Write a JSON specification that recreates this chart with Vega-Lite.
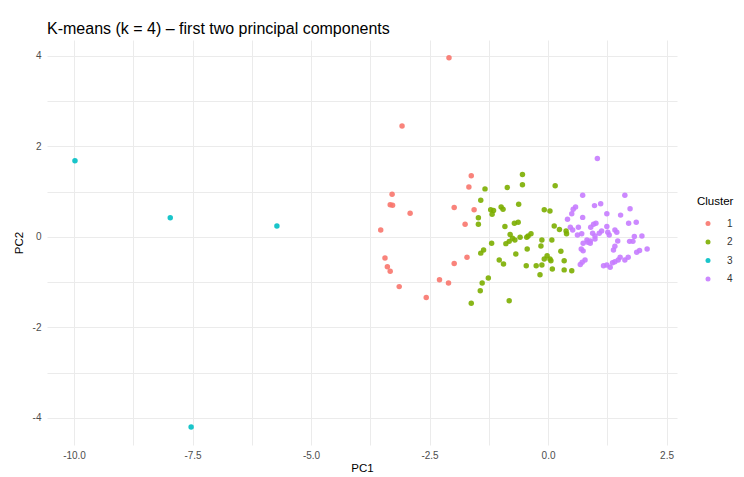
{
  "$schema": "https://vega.github.io/schema/vega-lite/v6.json",
  "autosize": "none",
  "width": 630,
  "height": 405,
  "padding": {"left": 47, "top": 40, "right": 67, "bottom": 32},
  "background": "white",
  "title": {
    "text": "K-means (k = 4) \u2013 first two principal components",
    "anchor": "start",
    "font": "Liberation Sans",
    "fontSize": 16,
    "fontWeight": "normal",
    "color": "#000000",
    "baseline": "alphabetic",
    "offset": 8,
    "dy": 18,
    "frame": "group"
  },
  "config": {
    "view": {"stroke": null},
    "font": "Liberation Sans"
  },
  "data": {
    "values": [
      {"PC1": -2.09, "PC2": 3.96, "Cluster": "1"},
      {"PC1": -3.08, "PC2": 2.45, "Cluster": "1"},
      {"PC1": -1.62, "PC2": 1.35, "Cluster": "1"},
      {"PC1": -1.67, "PC2": 1.10, "Cluster": "1"},
      {"PC1": -3.29, "PC2": 0.94, "Cluster": "1"},
      {"PC1": -3.33, "PC2": 0.71, "Cluster": "1"},
      {"PC1": -3.28, "PC2": 0.70, "Cluster": "1"},
      {"PC1": -2.91, "PC2": 0.52, "Cluster": "1"},
      {"PC1": -1.98, "PC2": 0.65, "Cluster": "1"},
      {"PC1": -1.56, "PC2": 0.60, "Cluster": "1"},
      {"PC1": -3.53, "PC2": 0.15, "Cluster": "1"},
      {"PC1": -1.75, "PC2": 0.28, "Cluster": "1"},
      {"PC1": -3.44, "PC2": -0.47, "Cluster": "1"},
      {"PC1": -3.39, "PC2": -0.66, "Cluster": "1"},
      {"PC1": -3.33, "PC2": -0.76, "Cluster": "1"},
      {"PC1": -1.71, "PC2": -0.45, "Cluster": "1"},
      {"PC1": -1.98, "PC2": -0.59, "Cluster": "1"},
      {"PC1": -2.29, "PC2": -0.95, "Cluster": "1"},
      {"PC1": -2.10, "PC2": -1.02, "Cluster": "1"},
      {"PC1": -3.14, "PC2": -1.10, "Cluster": "1"},
      {"PC1": -2.57, "PC2": -1.34, "Cluster": "1"},
      {"PC1": -1.33, "PC2": 1.06, "Cluster": "2"},
      {"PC1": -0.86, "PC2": 1.09, "Cluster": "2"},
      {"PC1": -0.54, "PC2": 1.38, "Cluster": "2"},
      {"PC1": -0.54, "PC2": 1.15, "Cluster": "2"},
      {"PC1": 0.15, "PC2": 1.13, "Cluster": "2"},
      {"PC1": -1.42, "PC2": 0.81, "Cluster": "2"},
      {"PC1": -1.21, "PC2": 0.60, "Cluster": "2"},
      {"PC1": -1.15, "PC2": 0.58, "Cluster": "2"},
      {"PC1": -1.18, "PC2": 0.50, "Cluster": "2"},
      {"PC1": -0.99, "PC2": 0.66, "Cluster": "2"},
      {"PC1": -0.95, "PC2": 0.61, "Cluster": "2"},
      {"PC1": -0.62, "PC2": 0.72, "Cluster": "2"},
      {"PC1": -1.47, "PC2": 0.42, "Cluster": "2"},
      {"PC1": -1.47, "PC2": 0.28, "Cluster": "2"},
      {"PC1": -0.91, "PC2": 0.23, "Cluster": "2"},
      {"PC1": -0.71, "PC2": 0.30, "Cluster": "2"},
      {"PC1": -0.63, "PC2": 0.32, "Cluster": "2"},
      {"PC1": -0.08, "PC2": 0.60, "Cluster": "2"},
      {"PC1": 0.04, "PC2": 0.57, "Cluster": "2"},
      {"PC1": 0.13, "PC2": 0.24, "Cluster": "2"},
      {"PC1": 0.24, "PC2": 0.16, "Cluster": "2"},
      {"PC1": 0.38, "PC2": 0.13, "Cluster": "2"},
      {"PC1": 0.39, "PC2": 0.07, "Cluster": "2"},
      {"PC1": -0.80, "PC2": 0.05, "Cluster": "2"},
      {"PC1": -0.75, "PC2": -0.03, "Cluster": "2"},
      {"PC1": -0.82, "PC2": -0.10, "Cluster": "2"},
      {"PC1": -0.70, "PC2": -0.07, "Cluster": "2"},
      {"PC1": -0.89, "PC2": -0.15, "Cluster": "2"},
      {"PC1": -0.59, "PC2": -0.01, "Cluster": "2"},
      {"PC1": -0.42, "PC2": 0.02, "Cluster": "2"},
      {"PC1": -0.36, "PC2": 0.07, "Cluster": "2"},
      {"PC1": -0.45, "PC2": -0.01, "Cluster": "2"},
      {"PC1": -0.13, "PC2": -0.07, "Cluster": "2"},
      {"PC1": 0.08, "PC2": -0.07, "Cluster": "2"},
      {"PC1": -0.15, "PC2": -0.20, "Cluster": "2"},
      {"PC1": -0.44, "PC2": -0.27, "Cluster": "2"},
      {"PC1": -0.68, "PC2": -0.38, "Cluster": "2"},
      {"PC1": 0.27, "PC2": -0.32, "Cluster": "2"},
      {"PC1": -1.19, "PC2": -0.14, "Cluster": "2"},
      {"PC1": -1.36, "PC2": -0.29, "Cluster": "2"},
      {"PC1": -1.42, "PC2": -0.36, "Cluster": "2"},
      {"PC1": -1.03, "PC2": -0.51, "Cluster": "2"},
      {"PC1": -0.94, "PC2": -0.60, "Cluster": "2"},
      {"PC1": -0.46, "PC2": -0.64, "Cluster": "2"},
      {"PC1": -0.25, "PC2": -0.64, "Cluster": "2"},
      {"PC1": -0.13, "PC2": -0.62, "Cluster": "2"},
      {"PC1": -0.08, "PC2": -0.49, "Cluster": "2"},
      {"PC1": -0.02, "PC2": -0.42, "Cluster": "2"},
      {"PC1": 0.04, "PC2": -0.49, "Cluster": "2"},
      {"PC1": 0.06, "PC2": -0.53, "Cluster": "2"},
      {"PC1": 0.34, "PC2": -0.53, "Cluster": "2"},
      {"PC1": 0.09, "PC2": -0.71, "Cluster": "2"},
      {"PC1": 0.34, "PC2": -0.73, "Cluster": "2"},
      {"PC1": 0.50, "PC2": -0.75, "Cluster": "2"},
      {"PC1": -0.17, "PC2": -0.84, "Cluster": "2"},
      {"PC1": -1.26, "PC2": -0.91, "Cluster": "2"},
      {"PC1": -1.39, "PC2": -1.02, "Cluster": "2"},
      {"PC1": -1.43, "PC2": -1.19, "Cluster": "2"},
      {"PC1": -1.62, "PC2": -1.47, "Cluster": "2"},
      {"PC1": -0.82, "PC2": -1.41, "Cluster": "2"},
      {"PC1": -9.98, "PC2": 1.68, "Cluster": "3"},
      {"PC1": -7.97, "PC2": 0.42, "Cluster": "3"},
      {"PC1": -5.72, "PC2": 0.24, "Cluster": "3"},
      {"PC1": -7.53, "PC2": -4.20, "Cluster": "3"},
      {"PC1": 1.04, "PC2": 1.73, "Cluster": "4"},
      {"PC1": 0.73, "PC2": 0.92, "Cluster": "4"},
      {"PC1": 1.62, "PC2": 0.92, "Cluster": "4"},
      {"PC1": 0.58, "PC2": 0.66, "Cluster": "4"},
      {"PC1": 0.53, "PC2": 0.61, "Cluster": "4"},
      {"PC1": 0.98, "PC2": 0.69, "Cluster": "4"},
      {"PC1": 1.11, "PC2": 0.73, "Cluster": "4"},
      {"PC1": 1.73, "PC2": 0.62, "Cluster": "4"},
      {"PC1": 0.50, "PC2": 0.51, "Cluster": "4"},
      {"PC1": 0.73, "PC2": 0.43, "Cluster": "4"},
      {"PC1": 1.24, "PC2": 0.51, "Cluster": "4"},
      {"PC1": 1.53, "PC2": 0.48, "Cluster": "4"},
      {"PC1": 1.70, "PC2": 0.30, "Cluster": "4"},
      {"PC1": 1.86, "PC2": 0.32, "Cluster": "4"},
      {"PC1": 0.41, "PC2": 0.39, "Cluster": "4"},
      {"PC1": 0.47, "PC2": 0.21, "Cluster": "4"},
      {"PC1": 0.52, "PC2": 0.15, "Cluster": "4"},
      {"PC1": 0.64, "PC2": 0.21, "Cluster": "4"},
      {"PC1": 0.96, "PC2": 0.28, "Cluster": "4"},
      {"PC1": 1.01, "PC2": 0.30, "Cluster": "4"},
      {"PC1": 0.90, "PC2": 0.21, "Cluster": "4"},
      {"PC1": 1.24, "PC2": 0.23, "Cluster": "4"},
      {"PC1": 1.41, "PC2": 0.15, "Cluster": "4"},
      {"PC1": 1.45, "PC2": 0.10, "Cluster": "4"},
      {"PC1": 1.13, "PC2": 0.13, "Cluster": "4"},
      {"PC1": 1.08, "PC2": 0.08, "Cluster": "4"},
      {"PC1": 0.62, "PC2": 0.04, "Cluster": "4"},
      {"PC1": 0.71, "PC2": 0.07, "Cluster": "4"},
      {"PC1": 0.94, "PC2": 0.08, "Cluster": "4"},
      {"PC1": 0.99, "PC2": 0.02, "Cluster": "4"},
      {"PC1": 1.26, "PC2": 0.10, "Cluster": "4"},
      {"PC1": 1.29, "PC2": 0.04, "Cluster": "4"},
      {"PC1": 1.82, "PC2": 0.01, "Cluster": "4"},
      {"PC1": 1.98, "PC2": 0.02, "Cluster": "4"},
      {"PC1": 0.82, "PC2": -0.07, "Cluster": "4"},
      {"PC1": 0.84, "PC2": -0.12, "Cluster": "4"},
      {"PC1": 0.89, "PC2": -0.09, "Cluster": "4"},
      {"PC1": 0.99, "PC2": -0.05, "Cluster": "4"},
      {"PC1": 0.89, "PC2": -0.14, "Cluster": "4"},
      {"PC1": 1.47, "PC2": -0.09, "Cluster": "4"},
      {"PC1": 1.72, "PC2": -0.10, "Cluster": "4"},
      {"PC1": 1.79, "PC2": -0.10, "Cluster": "4"},
      {"PC1": 0.74, "PC2": -0.14, "Cluster": "4"},
      {"PC1": 0.70, "PC2": -0.27, "Cluster": "4"},
      {"PC1": 0.74, "PC2": -0.31, "Cluster": "4"},
      {"PC1": 1.38, "PC2": -0.29, "Cluster": "4"},
      {"PC1": 1.41, "PC2": -0.21, "Cluster": "4"},
      {"PC1": 1.93, "PC2": -0.30, "Cluster": "4"},
      {"PC1": 2.09, "PC2": -0.27, "Cluster": "4"},
      {"PC1": 1.87, "PC2": -0.34, "Cluster": "4"},
      {"PC1": 0.78, "PC2": -0.51, "Cluster": "4"},
      {"PC1": 0.72, "PC2": -0.56, "Cluster": "4"},
      {"PC1": 0.68, "PC2": -0.61, "Cluster": "4"},
      {"PC1": 1.17, "PC2": -0.64, "Cluster": "4"},
      {"PC1": 1.24, "PC2": -0.62, "Cluster": "4"},
      {"PC1": 1.31, "PC2": -0.67, "Cluster": "4"},
      {"PC1": 1.36, "PC2": -0.57, "Cluster": "4"},
      {"PC1": 1.41, "PC2": -0.55, "Cluster": "4"},
      {"PC1": 1.48, "PC2": -0.51, "Cluster": "4"},
      {"PC1": 1.52, "PC2": -0.45, "Cluster": "4"},
      {"PC1": 1.62, "PC2": -0.51, "Cluster": "4"},
      {"PC1": 1.69, "PC2": -0.45, "Cluster": "4"}
    ]
  },
  "mark": {"type": "circle", "size": 30, "opacity": 0.9},
  "encoding": {
    "x": {
      "field": "PC1",
      "type": "quantitative",
      "title": "PC1",
      "scale": {"domain": [-10.57, 2.72], "nice": false, "zero": false},
      "axis": {
        "values": [-10, -8.75, -7.5, -6.25, -5, -3.75, -2.5, -1.25, 0, 1.25, 2.5],
        "labelExpr": "datum.value % 2.5 === 0 ? replace(format(datum.value, '.1f'), '\u2212', '-') : ''",
        "domain": false,
        "ticks": false,
        "grid": true,
        "gridColor": "#ebebeb",
        "gridWidth": 1,
        "labelFont": "Liberation Sans",
        "labelFontSize": 10,
        "labelColor": "#4d4d4d",
        "labelPadding": 5,
        "titleFont": "Liberation Sans",
        "titleFontSize": 11.5,
        "titleFontWeight": "normal",
        "titleColor": "#000000",
        "titlePadding": 2
      }
    },
    "y": {
      "field": "PC2",
      "type": "quantitative",
      "title": "PC2",
      "scale": {"domain": [-4.6, 4.35], "nice": false, "zero": false},
      "axis": {
        "values": [-4, -3, -2, -1, 0, 1, 2, 3, 4],
        "labelExpr": "datum.value % 2 === 0 ? replace(format(datum.value, 'd'), '\u2212', '-') : ''",
        "domain": false,
        "ticks": false,
        "grid": true,
        "gridColor": "#ebebeb",
        "gridWidth": 1,
        "labelFont": "Liberation Sans",
        "labelFontSize": 10,
        "labelColor": "#4d4d4d",
        "labelPadding": 6,
        "titleFont": "Liberation Sans",
        "titleFontSize": 11.5,
        "titleFontWeight": "normal",
        "titleColor": "#000000",
        "titlePadding": 8
      }
    },
    "color": {
      "field": "Cluster",
      "type": "nominal",
      "scale": {"domain": ["1", "2", "3", "4"], "range": ["#F8766D", "#7CAE00", "#00BFC4", "#C77CFF"]},
      "legend": {
        "orient": "none",
        "legendX": 650,
        "legendY": 156,
        "title": "Cluster",
        "titleFont": "Liberation Sans",
        "titleFontSize": 11.5,
        "titleFontWeight": "normal",
        "titleColor": "#000000",
        "titlePadding": 11,
        "labelFont": "Liberation Sans",
        "labelFontSize": 10,
        "labelColor": "#333333",
        "symbolType": "circle",
        "symbolSize": 25,
        "symbolOpacity": 0.9,
        "symbolOffset": 6,
        "labelOffset": 14,
        "rowPadding": 8.5,
        "padding": 0
      }
    }
  }
}
